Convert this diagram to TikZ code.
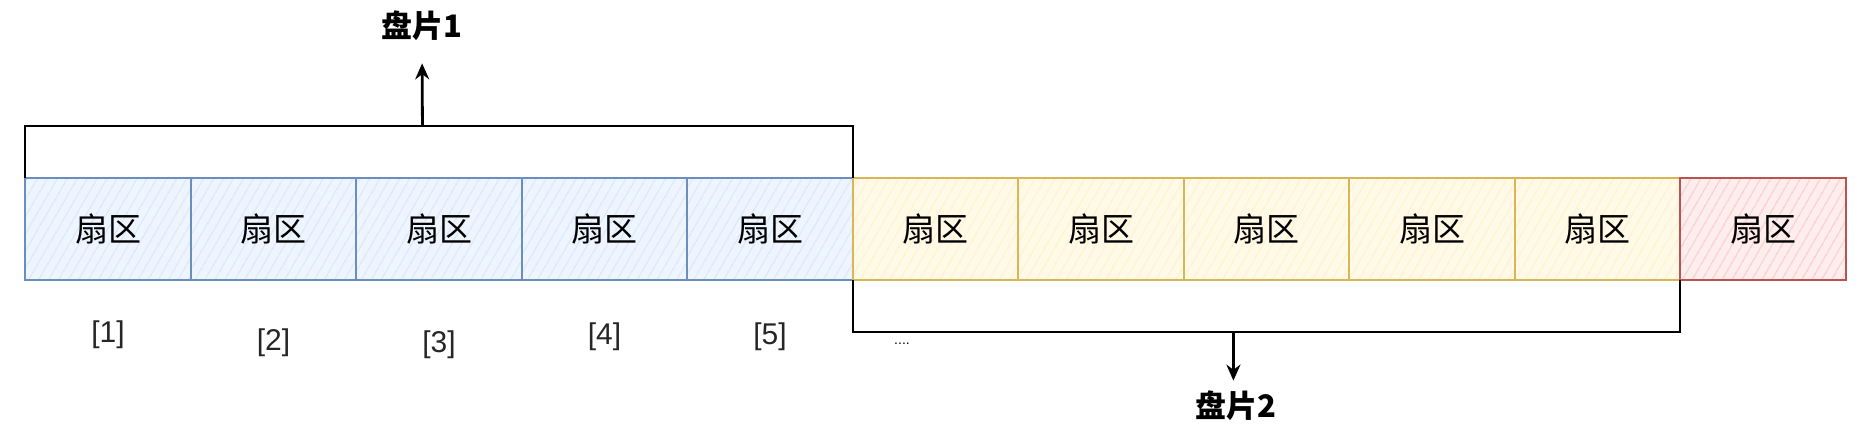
\documentclass[tikz,border=0pt]{standalone}
\usepackage{fontspec}
\setmainfont{Liberation Sans}
\newfontfamily\cjk{Noto Sans CJK SC}
\usetikzlibrary{positioning,calc,arrows.meta,patterns.meta}
\definecolor{blueline}{HTML}{6C8EBF}
\definecolor{bluefill}{HTML}{DAE8FC}
\definecolor{yellowline}{HTML}{D6B656}
\definecolor{yellowfill}{HTML}{FFF2CC}
\definecolor{redline}{HTML}{B85450}
\definecolor{redfill}{HTML}{F8CECC}
\tikzstyle{sector} = [draw, line width=1pt, rectangle, minimum width=82.75pt,
    minimum height=51pt, inner sep=0pt, outer sep=0pt,
    font=\cjk\fontsize{16.5}{16.5}\selectfont]
\tikzstyle{bluesec} = [sector, draw=blueline, preaction={fill=bluefill!45},
    pattern={Lines[angle=60,distance=4pt,line width=0.6pt]}, pattern color=bluefill]
\tikzstyle{yellowsec} = [sector, draw=yellowline, preaction={fill=yellowfill!45},
    pattern={Lines[angle=60,distance=4pt,line width=0.6pt]}, pattern color=yellowfill]
\tikzstyle{redsec} = [sector, draw=redline, preaction={fill=redfill!35},
    pattern={Lines[angle=60,distance=4pt,line width=0.6pt]}, pattern color=redfill]
\tikzstyle{brace} = [draw=black, line width=1.1pt]
\tikzstyle{disk} = [font=\cjk\bfseries\fontsize{15.5}{15.5}\selectfont, inner sep=0pt]
\tikzstyle{idx} = [font=\fontsize{15}{15}\selectfont, inner sep=0pt, text=black!85]
\tikzstyle{arr} = [draw=black, line width=1.4pt, -{Stealth[length=8pt,width=7pt]}]

\begin{document}
\begin{tikzpicture}[x=0.5pt, y=-0.5pt]
    \useasboundingbox (0,0) rectangle (1872,429);
    % sectors
    \node[bluesec] (s1) at (108,229) {扇区};
    \foreach \i/\st [remember=\i as \last (initially 1)] in
        {2/bluesec,3/bluesec,4/bluesec,5/bluesec,6/yellowsec,7/yellowsec,
         8/yellowsec,9/yellowsec,10/yellowsec,11/redsec}
        \node[\st, right=0pt of s\last] (s\i) {扇区};
    % indices
    \foreach \i/\dy in {1/106,2/114,3/116,4/108,5/108}
        \node[idx] (n\i) at ($(s\i.center)+(0,\dy)$) {[\i]};
    \node[font=\fontsize{7}{7}\selectfont, inner sep=0pt] (dots) at (902,344) {....};
    % disk 1
    \draw[brace] (s1.north west) -- ++(0,-52) coordinate (t1)
        -- (t1 -| s5.north east) coordinate (t2) -- (s5.north east);
    \coordinate (m1) at ($(t1)!0.48!(t2)$);
    \node[disk] (d1) at (422,26) {盘片1};
    \draw[arr, shorten >=11pt] (m1) -- (d1.south);
    % disk 2
    \draw[brace] (s6.south west) -- ++(0,52) coordinate (b1)
        -- (b1 -| s10.south east) coordinate (b2) -- (s10.south east);
    \coordinate (m2) at ($(b1)!0.46!(b2)$);
    \node[disk] (d2) at (1236,406) {盘片2};
    \draw[arr, shorten >=5pt] (m2) -- (m2 |- d2.north);
\end{tikzpicture}
\end{document}
